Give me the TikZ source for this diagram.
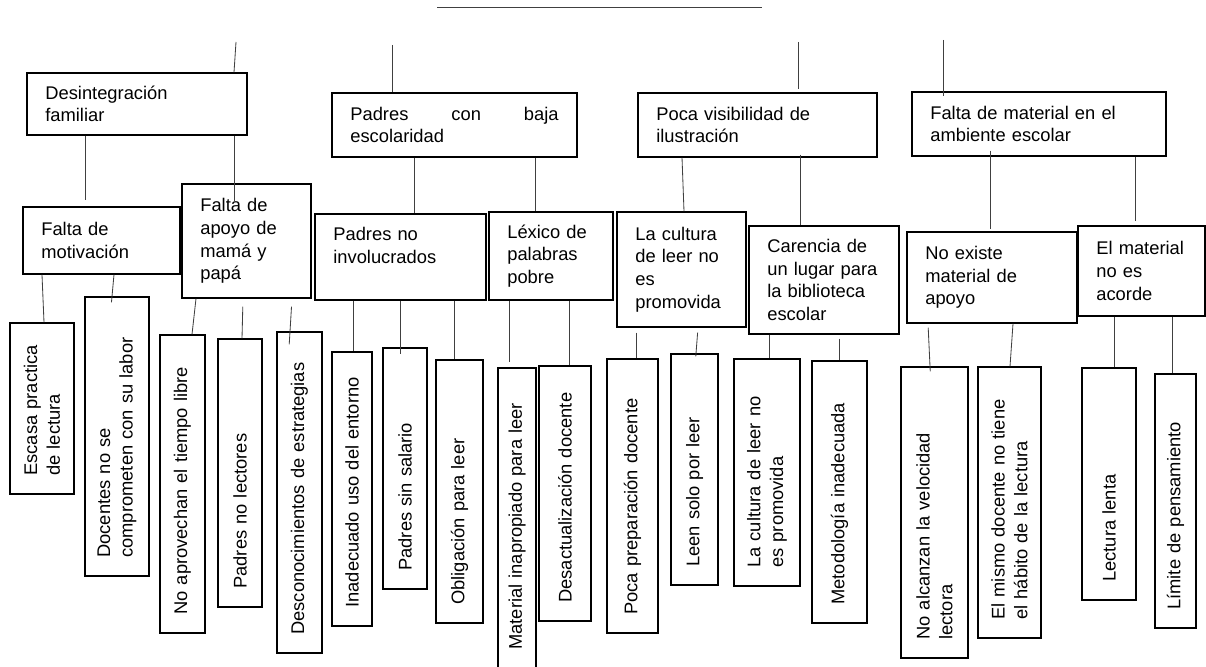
\documentclass[tikz,border=0pt]{standalone}
\usepackage{fontspec}
\setmainfont{Liberation Sans}
\usepackage{tikz}
\tikzset{
	causa/.style 2 args={draw, line width=0.7pt, align=left, inner xsep=11pt, inner ysep=2pt, text width={#1*0.6pt-22pt}, minimum height={#2*0.6pt}, font=\fontsize{11}{13.6}\selectfont},
	subcausa/.style 2 args={causa={#2}{#1}, rotate=90},
	link/.style={draw, line width=0.5pt, black!75}
}

\begin{document}
\begin{tikzpicture}[x=0.6pt, y=-0.6pt]
	\useasboundingbox (0,0) rectangle (1206,666);

	% Problem line and the free ends above the main causes
	\coordinate (probL) at (437,7);
	\coordinate (probR) at (762,7);
	\coordinate (up1) at (236,42);
	\coordinate (up2) at (392,45);
	\coordinate (up3) at (798,42);
	\coordinate (up4) at (943,40);
	\path[link] (probL) -- (probR);

	% Main causes
	\node[causa={220}{62}] (desin) at (137,104) {Desintegración\\familiar};
	\node[causa={245}{64}] (padres) at (454.5,125) {Padres\hfill con\hfill baja\\escolaridad};
	\node[causa={239}{64}] (poca) at (757.5,125) {Poca visibilidad de\\ilustración};
	\node[causa={254}{64}] (falta) at (1039,124) {Falta de material en el\\ambiente escolar};

	% Secondary causes
	\node[causa={157}{67}] (motiv) at (101.5,240.5) {Falta de\\motivación};
	\node[causa={129}{114}] (apoyo) at (246.5,241) {Falta de\\apoyo de\\mamá y\\papá};
	\node[causa={171}{86}] (invol) at (400.5,257) {Padres no\\involucrados\\\mbox{}};
	\node[causa={124}{88}] (lexico) at (551,256) {Léxico de\\palabras\\pobre};
	\node[causa={129}{115}] (cultura) at (681.5,269.5) {La cultura\\de leer no\\es\\promovida};
	\node[causa={150}{108}] (carencia) at (824,280) {Carencia de\\un lugar para\\la biblioteca\\escolar};
	\node[causa={170}{91}] (noexiste) at (992,277.5) {No existe\\material de\\apoyo};
	\node[causa={127}{90}] (acorde) at (1141.5,271) {El material\\no es\\acorde};

	% Root causes (vertical boxes)
	\node[subcausa={64}{171}] (escasa) at (42,408.5) {Escasa practica\\de lectura};
	\node[subcausa={64}{279}] (docentes) at (117,436.5) {Docentes no se\\comprometen con su labor};
	\node[subcausa={45}{298}] (noaprov) at (182.5,484) {No aprovechan el tiempo libre};
	\node[subcausa={44}{268}] (lectores) at (240,473) {Padres no lectores};
	\node[subcausa={45}{321}] (descon) at (299.5,492.5) {Desconocimientos de estrategias};
	\node[subcausa={40}{274}] (inadec) at (352,489) {Inadecuado uso del entorno};
	\node[subcausa={44}{241}] (salario) at (405,468.5) {Padres sin salario};
	\node[subcausa={47}{263}] (oblig) at (459.5,491.5) {Obligación para leer};
	\node[subcausa={38}{300}] (material) at (517,518) {Material inapropiado para leer};
	\node[subcausa={52}{255}] (desact) at (565,493.5) {Desactualización docente};
	\node[subcausa={51}{274}] (prepar) at (632.5,496) {Poca preparación docente};
	\node[subcausa={47}{231}] (leen) at (694.5,469.5) {Leen solo por leer};
	\node[subcausa={66}{227}] (promov) at (767,472.5) {La cultura de leer no\\es promovida};
	\node[subcausa={55}{262}] (metod) at (839.5,492) {Metodología inadecuada};
	\node[subcausa={67}{291}] (velocidad) at (934.5,512.5) {No alcanzan la velocidad\\lectora};
	\node[subcausa={63}{271}] (habito) at (1009.5,502.5) {El mismo docente no tiene\\el hábito de la lectura};
	\node[subcausa={54}{232}] (lenta) at (1109,484) {Lectura lenta};
	\node[subcausa={41}{254}] (limite) at (1175.5,501) {Límite de pensamiento};

	% Links to the problem line
	\path[link] (up1) -- (desin.north -| 234,0);
	\path[link] (up2) -- (padres.north -| 392,0);
	\path[link, shorten >=1.8pt] (up3) -- (poca.north -| 798,0);
	\path[link, shorten >=-3pt] (up4) -- (falta.north -| 943,0);

	% Main causes to secondary causes
	\path[link, shorten >=3.6pt] (desin.south -| 85,0) -- (motiv.north -| 85,0);
	\path[link, shorten >=-10.8pt] (desin.south -| 234,0) -- (apoyo.north -| 234,0);
	\path[link] (padres.south -| 414,0) -- (invol.north -| 414,0);
	\path[link] (padres.south -| 535,0) -- (lexico.north -| 535,0);
	\path[link] (poca.south -| 682,0) -- (cultura.north -| 684,0);
	\path[link, shorten <=-1.8pt] (poca.south -| 800,0) -- (carencia.north -| 800,0);
	\path[link, shorten <=-3.6pt, shorten >=1.2pt] (falta.south -| 990,0) -- (noexiste.north -| 990,0);
	\path[link, shorten >=2.4pt] (falta.south -| 1135,0) -- (acorde.north -| 1135,0);

	% Secondary causes to root causes (rotated boxes: east is the top)
	\path[link] (motiv.south -| 42,0) -- (escasa.east -| 44,0);
	\path[link, shorten >=-3.6pt] (motiv.south -| 114,0) -- (docentes.east -| 112,0);
	\path[link] (apoyo.south -| 196,0) -- (noaprov.east -| 192,0);
	\path[link, shorten <=4.8pt] (apoyo.south -| 243,0) -- (lectores.east -| 242,0);
	\path[link, shorten <=4.8pt, shorten >=-7.8pt] (apoyo.south -| 292,0) -- (descon.east -| 290,0);
	\path[link] (invol.south -| 353,0) -- (inadec.east -| 353,0);
	\path[link, shorten >=-4.2pt] (invol.south -| 400,0) -- (salario.east -| 400,0);
	\path[link] (invol.south -| 454,0) -- (oblig.east -| 454,0);
	\path[link, shorten >=3pt] (lexico.south -| 509,0) -- (material.east -| 509,0);
	\path[link] (lexico.south -| 569,0) -- (desact.east -| 569,0);
	\path[link, shorten <=3pt] (cultura.south -| 636,0) -- (prepar.east -| 636,0);
	\path[link, shorten <=3pt, shorten >=-1.8pt] (cultura.south -| 698,0) -- (leen.east -| 696,0);
	\path[link] (carencia.south -| 769,0) -- (promov.east -| 769,0);
	\path[link, shorten <=2.4pt] (carencia.south -| 839,0) -- (metod.east -| 839,0);
	\path[link, shorten <=2.4pt, shorten >=-3pt] (noexiste.south -| 928,0) -- (velocidad.east -| 930,0);
	\path[link] (noexiste.south -| 1013,0) -- (habito.east -| 1010,0);
	\path[link] (acorde.south -| 1114,0) -- (lenta.east -| 1114,0);
	\path[link] (acorde.south -| 1172,0) -- (limite.east -| 1172,0);
\end{tikzpicture}
\end{document}
